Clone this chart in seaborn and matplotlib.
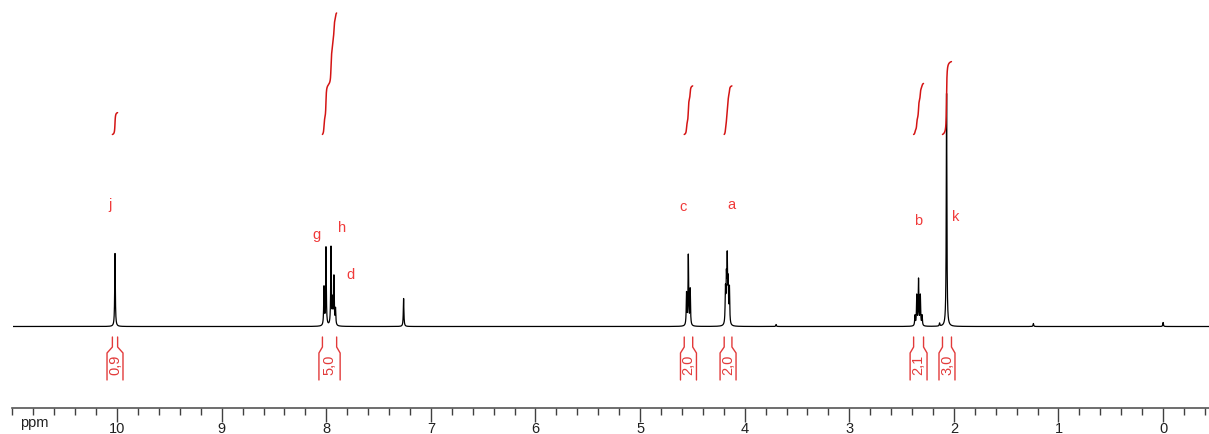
import numpy as np
import pandas as pd
import seaborn as sns
import matplotlib.pyplot as plt
from matplotlib.ticker import MultipleLocator, FixedLocator

# Peak list: shift (ppm), height (px above baseline)
peak_ppm = [10.02,
            8.022, 8.003, 7.955, 7.940, 7.927, 7.912,
            7.261,
            4.556, 4.539, 4.521,
            4.184, 4.175, 4.167, 4.158, 4.146,
            3.70,
            2.372, 2.355, 2.338, 2.321, 2.304,
            2.137, 2.07,
            1.24, 0.0]
peak_height = [73,
               38, 78, 78, 24, 48, 16,
               28,
               32, 70, 36,
               34, 42, 62, 40, 36,
               2,
               10, 30, 46, 30, 10,
               3, 233,
               3, 4]

# Integral regions (ppm, left/right) and integral values
int_left = [10.045, 8.037, 4.578, 4.196, 2.385, 2.109]
int_right = [9.995, 7.901, 4.497, 4.122, 2.290, 2.023]
int_value = ["0,9", "5,0", "2,0", "2,0", "2,1", "3,0"]
int_num = [0.9, 5.0, 2.0, 2.0, 2.1, 3.0]

# Assignment letters
lab_text = ["j", "g", "h", "d", "c", "a", "b", "k"]
lab_ppm = [10.067, 8.092, 7.853, 7.767, 4.590, 4.122, 2.338, 1.985]
lab_y = [121.5, 91.5, 98.5, 51.5, 119.5, 121.5, 105.5, 109.5]

RED_TXT = "#f03a3a"
RED_INT = "#d41414"
RED_BR = "#e23a3a"

# Build the spectrum as a sum of Lorentzian lines
ppm = np.arange(11.2, -0.6, -0.0005)
hw = 0.0034
spec = np.zeros_like(ppm)
for p, h in zip(peak_ppm, peak_height):
    spec += h / (1 + ((ppm - p) / hw) ** 2)
df = pd.DataFrame({"ppm": ppm, "intensity": spec})

sns.set_theme(style="white")
plt.rcParams["font.family"] = ["Liberation Sans", "DejaVu Sans"]

W, H = 1209, 434
fig = plt.figure(figsize=(W / 100, H / 100), dpi=100)
ax_bottom = 407.7
ax = fig.add_axes([12.5 / W, (H - ax_bottom) / H, (W - 12.5) / W, ax_bottom / H])

sns.lineplot(data=df, x="ppm", y="intensity", ax=ax, color="black",
             lw=0.9, estimator=None, sort=False)

# Integral curves
base = 192.0
per_h = 24.3
for lo_l, lo_r, v in zip(int_left, int_right, int_num):
    m = (ppm <= lo_l) & (ppm >= lo_r)
    seg = spec[m]
    cum = np.cumsum(seg)
    cum = cum / cum[-1]
    sns.lineplot(x=ppm[m], y=base + v * per_h * cum, ax=ax, color=RED_INT,
                 lw=1.1, estimator=None, sort=False)

# Integral brackets below the baseline
px = 1 / 104.8
for l, r, t in zip(int_left, int_right, int_value):
    c = (l + r) / 2
    half = (l - r) / 2
    off = max(3.5 * px, 8 * px - half)
    for side in (1, -1):
        xt = c + side * half
        xb = xt + side * off
        ax.plot([xt, xt, xb, xb], [-10.5, -20.5, -26.5, -53.5],
                color=RED_BR, lw=1.0)
    ax.text(c, -38, t, rotation=90, ha="center", va="center",
            color=RED_BR, fontsize=10.5)

for t, xp, yp in zip(lab_text, lab_ppm, lab_y):
    ax.text(xp, yp, t, ha="center", va="center", color=RED_TXT, fontsize=10.5)

ax.set_xlim(11.0, -0.439)
ax.set_ylim(-81.2, 326.5)
ax.set_xlabel("")
ax.set_ylabel("")
ax.set_yticks([])
ax.xaxis.set_major_locator(FixedLocator(list(range(0, 11))))
ax.xaxis.set_minor_locator(MultipleLocator(0.2))
ax.set_xticklabels([str(i) for i in range(0, 11)])
ax.tick_params(axis="x", which="major", direction="out", length=10, width=1.0,
               color="#404040", labelsize=10.5, pad=0.5, bottom=True,
               labelcolor="#202020")
ax.tick_params(axis="x", which="minor", direction="out", length=5, width=1.0,
               color="#404040", bottom=True)
for s in ["top", "left", "right"]:
    ax.spines[s].set_visible(False)
ax.spines["bottom"].set_color("#555555")
ax.spines["bottom"].set_linewidth(1.2)

fig.text(20.5 / W, 1 - 416 / H, "ppm", ha="left", va="top", fontsize=10.5,
         color="#202020")

fig.savefig("out.png", dpi=100)
